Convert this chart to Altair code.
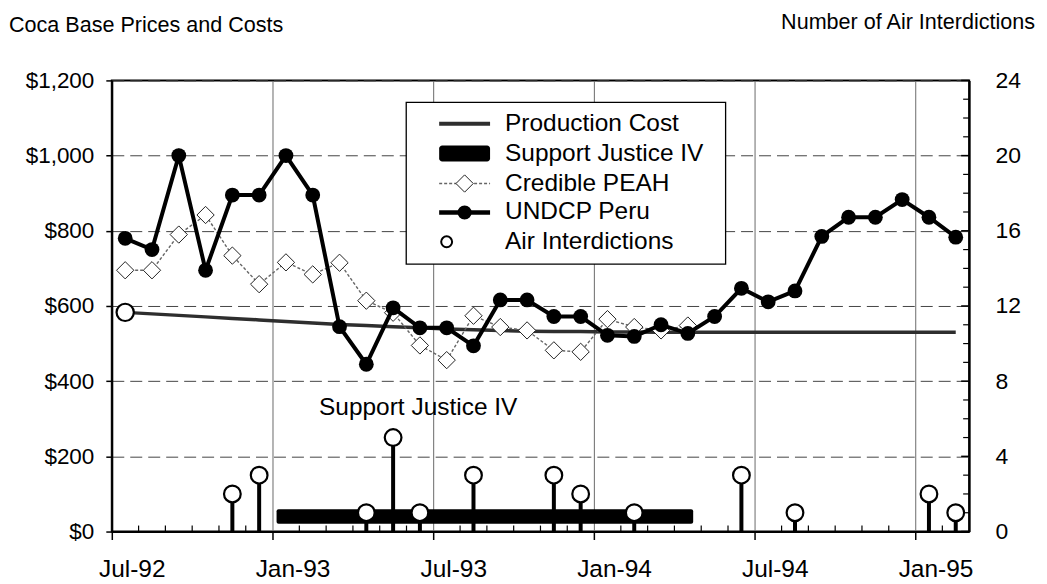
import json
import altair as alt
import pandas as pd

FONT = "Liberation Sans"

# ---------------- data ----------------
MONTHS = ["Jul-92", "Aug-92", "Sep-92", "Oct-92", "Nov-92", "Dec-92",
          "Jan-93", "Feb-93", "Mar-93", "Apr-93", "May-93", "Jun-93",
          "Jul-93", "Aug-93", "Sep-93", "Oct-93", "Nov-93", "Dec-93",
          "Jan-94", "Feb-94", "Mar-94", "Apr-94", "May-94", "Jun-94",
          "Jul-94", "Aug-94", "Sep-94", "Oct-94", "Nov-94", "Dec-94",
          "Jan-95", "Feb-95"]
UNDCP_PERU = [780, 750, 1000, 695, 895, 895, 1000, 895, 545, 445, 595, 542,
              542, 494, 616, 616, 572, 572, 522, 519, 550, 527, 572, 647,
              611, 640, 785, 836, 836, 883, 836, 783]
CREDIBLE_PEAH = [695, 695, 790, 842, 734, 658, 716, 684, 715, 614, 582, 495,
                 456, 574, 544, 535, 482, 478, 565, 544, 535, 548]
PRODUCTION_COST = [583, 579, 575, 571, 567, 563, 559, 555, 551, 548, 545, 542,
                   539, 537, 535, 533, 532, 532, 531, 531, 530, 530, 530, 530,
                   530, 530, 530, 530, 530, 530, 530, 530]
AIR_INTERDICTIONS = [0, 0, 0, 0, 2, 3, 0, 0, 0, 1, 5, 1,
                     0, 3, 0, 0, 3, 2, 0, 1, 0, 0, 0, 3,
                     0, 1, 0, 0, 0, 0, 2, 1]
# Support Justice IV operation span (month positions) and band (count units)
SJ_START, SJ_END = 6.15, 21.7
SJ_LOW, SJ_HIGH = 0.41, 1.19

PRICE_MAX = 1200
COUNT_MAX = 24
PRICE_TICKS = [0, 200, 400, 600, 800, 1000, 1200]
COUNT_LABELS = [0, 4, 8, 12, 16, 20, 24]
COUNT_MINOR = list(range(0, 25))

LEGEND_LABELS = ["Production Cost", "Support Justice IV", "Credible PEAH",
                 "UNDCP Peru", "Air Interdictions"]

RATIO = PRICE_MAX / COUNT_MAX  # right axis unit in left-axis units

# ---------------- frames ----------------
df = pd.DataFrame({
    "month": MONTHS,
    "m": [i + 0.5 for i in range(len(MONTHS))],
    "undcp": UNDCP_PERU,
    "prod": PRODUCTION_COST,
    "air": AIR_INTERDICTIONS,
})
peah_df = pd.DataFrame({
    "m": [i + 0.5 for i in range(len(CREDIBLE_PEAH))],
    "peah": CREDIBLE_PEAH,
})
air_df = df[df["air"] > 0]
prod_first = df.iloc[[0]]
boundaries = pd.DataFrame({"b": [i for i in range(1, len(MONTHS)) if i % 6 != 0]})
sj_df = pd.DataFrame({"s": [SJ_START], "e": [SJ_END], "lo": [SJ_LOW], "hi": [SJ_HIGH]})
cminor = pd.DataFrame({"k": [k for k in COUNT_MINOR if k not in COUNT_LABELS]})
cmajor = pd.DataFrame({"k": COUNT_LABELS})
dummy = pd.DataFrame({"a": [0]})

W, H = 859, 452

XS = alt.Scale(domain=[0, len(MONTHS)], nice=False, zero=False)
major_vals = [i for i, mth in enumerate(MONTHS) if mth.startswith(("Jan", "Jul"))]
XA = alt.Axis(values=major_vals, labelExpr=json.dumps(MONTHS) + "[datum.value]",
              title=None, grid=True, gridColor="#6a6a6a", gridWidth=1,
              tickSize=8, tickColor="black", tickWidth=1.5, labelOffset=20,
              labelPadding=18, labelFontSize=24.5, labelFont=FONT,
              labelColor="black", labelFlush=False, labelOverlap=False,
              domainColor="black", domainWidth=2)

YS = alt.Scale(domain=[0, PRICE_MAX], nice=False, zero=True)
PA = alt.Axis(orient="left", values=PRICE_TICKS, format="$,.0f", title=None,
              grid=True, gridColor="#444", gridDash=[12, 6], gridWidth=1,
              tickSize=6, tickColor="black", tickWidth=1.5, labelPadding=12,
              labelFontSize=22.5, labelFont=FONT, labelColor="black",
              domainColor="black", domainWidth=2)
CA = alt.Axis(orient="right", values=[c * RATIO for c in COUNT_LABELS],
              labelExpr="format(datum.value / %g, 'd')" % RATIO,
              title=None, grid=False, ticks=False, labelPadding=26,
              labelFontSize=23, labelFont=FONT, labelColor="black",
              labelAlign="left", domainColor="black", domainWidth=2)


def xenc(field):
    return alt.X(field + ":Q", scale=XS, axis=XA)


def yenc(field, axis=None):
    return alt.Y(field + ":Q", scale=YS, axis=axis)


# ---------------- counts (right axis) ----------------
sj_bar = alt.Chart(sj_df).transform_calculate(
    lo2="datum.lo * %g" % RATIO, hi2="datum.hi * %g" % RATIO
).mark_rect(color="black", cornerRadius=2).encode(
    x=xenc("s"), x2="e:Q", y=yenc("lo2", CA), y2="hi2:Q")
stems = alt.Chart(air_df).transform_calculate(
    zero="0", a2="datum.air * %g" % RATIO
).mark_rule(color="black", strokeWidth=4).encode(
    x=xenc("m"), y=yenc("zero"), y2="a2:Q")
circles = alt.Chart(air_df).transform_calculate(
    a2="datum.air * %g" % RATIO
).mark_point(shape="circle", filled=True, fill="white", stroke="black",
             strokeWidth=2.2, size=280, opacity=1).encode(
    x=xenc("m"), y=yenc("a2"))
minor_x = alt.Chart(boundaries).mark_rule(color="black", strokeWidth=1.2).encode(
    x=xenc("b"), y=alt.value(H), y2=alt.value(H - 6))
rt_minor = alt.Chart(cminor).transform_calculate(
    k2="datum.k * %g" % RATIO
).mark_rule(color="black", strokeWidth=1.2).encode(
    y=yenc("k2"), x=alt.value(W), x2=alt.value(W - 6))
rt_major = alt.Chart(cmajor).transform_calculate(
    k2="datum.k * %g" % RATIO
).mark_rule(color="black", strokeWidth=1.5).encode(
    y=yenc("k2"), x=alt.value(W), x2=alt.value(W - 8))

# ---------------- prices (left axis) ----------------
prod_line = alt.Chart(df).mark_line(color="#2e2e2e", strokeWidth=3.5).encode(
    x=xenc("m"), y=yenc("prod", PA))
prod_start = alt.Chart(prod_first).mark_point(
    shape="circle", filled=True, fill="white", stroke="black",
    strokeWidth=2.2, size=300, opacity=1).encode(x=xenc("m"), y=yenc("prod"))
peah_line = alt.Chart(peah_df).mark_line(
    color="#666", strokeWidth=1.4, strokeDash=[3, 2]).encode(
    x=xenc("m"), y=yenc("peah"))
peah_pts = alt.Chart(peah_df).mark_point(
    shape="diamond", filled=True, fill="white", stroke="#222",
    strokeWidth=1, size=300, opacity=1).encode(x=xenc("m"), y=yenc("peah"))
undcp_line = alt.Chart(df).mark_line(color="black", strokeWidth=4).encode(
    x=xenc("m"), y=yenc("undcp"))
undcp_pts = alt.Chart(df).mark_point(
    shape="circle", filled=True, color="black", size=220, opacity=1).encode(
    x=xenc("m"), y=yenc("undcp"))

# ---------------- decorations (text / legend) ----------------
base = alt.Chart(dummy)


def txt(t, x, y, size, align="left", baseline="alphabetic"):
    return base.mark_text(text=t, align=align, baseline=baseline, fontSize=size,
                          font=FONT, color="black").encode(
        x=alt.value(x), y=alt.value(y))


title_l = txt("Coca Base Prices and Costs", -103, -49, 21.6)
title_r = txt("Number of Air Interdictions", 925, -52, 21.6, align="right")
annot = txt("Support Justice IV", 307, 335, 24.5, align="center")

LX0, LX1, LY0, LY1 = 295, 615, 22, 184
ROWS = [43.3, 73.3, 103.3, 132.3, 161.7]
SX0, SX1, SXC, TX = 328, 379, 353.5, 394

leg_box = base.mark_rect(fill="white", stroke="black", strokeWidth=1.3).encode(
    x=alt.value(LX0), x2=alt.value(LX1), y=alt.value(LY0), y2=alt.value(LY1))
leg_texts = [txt(lbl, TX, ry, 24.5, baseline="middle")
             for lbl, ry in zip(LEGEND_LABELS, ROWS)]
leg_prod = base.mark_rule(color="#2e2e2e", strokeWidth=4).encode(
    x=alt.value(SX0), x2=alt.value(SX1), y=alt.value(ROWS[0]))
leg_sj = base.mark_rect(color="black", cornerRadius=3).encode(
    x=alt.value(SX0), x2=alt.value(SX1), y=alt.value(ROWS[1] - 8),
    y2=alt.value(ROWS[1] + 8))
leg_peah_l = base.mark_rule(color="#666", strokeWidth=1.4, strokeDash=[3, 2]).encode(
    x=alt.value(SX0), x2=alt.value(SX1), y=alt.value(ROWS[2]))
leg_peah_p = base.mark_point(shape="diamond", filled=True, fill="white",
                             stroke="#222", strokeWidth=1, size=300,
                             opacity=1).encode(x=alt.value(SXC), y=alt.value(ROWS[2]))
leg_un_l = base.mark_rule(color="black", strokeWidth=4.5).encode(
    x=alt.value(SX0), x2=alt.value(SX1), y=alt.value(ROWS[3]))
leg_un_p = base.mark_point(shape="circle", filled=True, color="black", size=200,
                           opacity=1).encode(x=alt.value(SXC), y=alt.value(ROWS[3]))
leg_air = base.mark_point(shape="circle", filled=True, fill="white",
                          stroke="black", strokeWidth=2, size=120,
                          opacity=1).encode(x=alt.value(335.5), y=alt.value(ROWS[4]))

chart = alt.layer(
    prod_line, sj_bar, stems, circles, minor_x, rt_minor, rt_major,
    peah_line, peah_pts, undcp_line, undcp_pts, prod_start,
    title_l, title_r, annot, leg_box, *leg_texts, leg_prod, leg_sj,
    leg_peah_l, leg_peah_p, leg_un_l, leg_un_p, leg_air,
).resolve_axis(y="independent").properties(
    width=W, height=H,
    padding={"left": 104, "top": 72, "right": 70, "bottom": 50},
    autosize=alt.AutoSizeParams(type="none"),
    background="white",
).configure_view(stroke="black", strokeWidth=2)

chart.save("out.html", embed_options={"renderer": "svg", "actions": False})
